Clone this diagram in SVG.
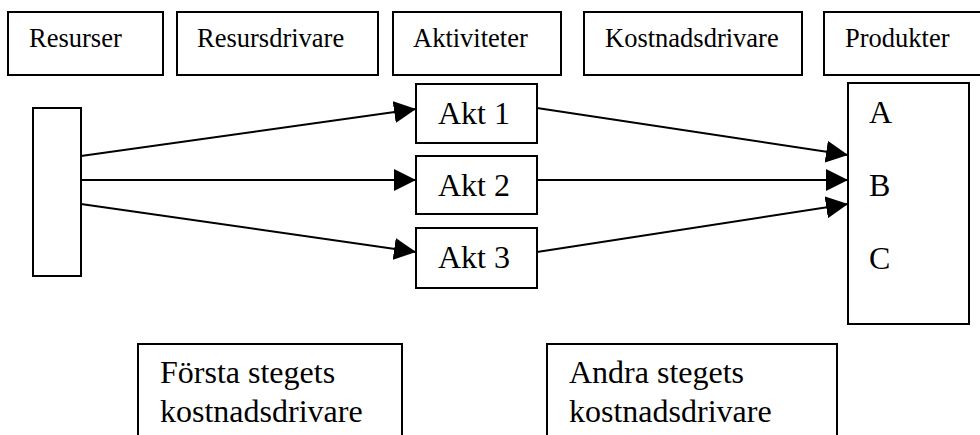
<svg xmlns="http://www.w3.org/2000/svg" width="980" height="435" viewBox="0 0 980 435">
<style>
.box{fill:#fff;stroke:#000;stroke-width:2}
.hdr{font-family:"Liberation Serif","Times New Roman",serif;font-size:26.5px;fill:#000}
.big{font-family:"Liberation Serif","Times New Roman",serif;font-size:32px;fill:#000}
.conn{stroke:#000;stroke-width:2;fill:none;marker-end:url(#ah)}
</style>
<defs>
<marker id="ah" markerUnits="userSpaceOnUse" markerWidth="22" markerHeight="22" viewBox="0 0 20 20" refX="20" refY="10" orient="auto">
<path d="M0,0 L20,10 L0,20 Z" fill="#000"/>
</marker>
</defs>
<rect width="980" height="435" fill="#fff"/>
<g id="hdr-resurser"><rect class="box" x="8" y="12" width="155" height="63"/><text class="hdr" x="29" y="47">Resurser</text></g>
<g id="hdr-resursdrivare"><rect class="box" x="177" y="12" width="201" height="63"/><text class="hdr" x="197" y="47">Resursdrivare</text></g>
<g id="hdr-aktiviteter"><rect class="box" x="393" y="12" width="168" height="63"/><text class="hdr" x="413" y="47">Aktiviteter</text></g>
<g id="hdr-kostnadsdrivare"><rect class="box" x="584" y="12" width="218" height="63"/><text class="hdr" x="605" y="47">Kostnadsdrivare</text></g>
<g id="hdr-produkter"><rect class="box" x="824" y="12" width="170" height="63"/><text class="hdr" x="845" y="47">Produkter</text></g>
<g id="resource"><rect class="box" x="33" y="108" width="48" height="168"/></g>
<g id="akt1"><rect class="box" x="416" y="84" width="121" height="59"/><text class="big" x="438" y="124">Akt 1</text></g>
<g id="akt2"><rect class="box" x="416" y="156" width="121" height="58"/><text class="big" x="438" y="196">Akt 2</text></g>
<g id="akt3"><rect class="box" x="416" y="228" width="121" height="60"/><text class="big" x="438" y="268">Akt 3</text></g>
<g id="products"><rect class="box" x="848" y="83" width="121" height="241"/><text class="big" x="869" y="123">A</text><text class="big" x="869" y="196">B</text><text class="big" x="869" y="269">C</text></g>
<g id="step1"><rect class="box" x="138" y="344" width="264" height="100"/><text class="big" x="160" y="383">Första stegets</text><text class="big" x="160" y="422">kostnadsdrivare</text></g>
<g id="step2"><rect class="box" x="547" y="344" width="290" height="100"/><text class="big" x="569" y="383">Andra stegets</text><text class="big" x="569" y="422">kostnadsdrivare</text></g>
<g id="connectors">
<line class="conn" x1="81" y1="156" x2="416" y2="109"/>
<line class="conn" x1="81" y1="180" x2="416" y2="180"/>
<line class="conn" x1="81" y1="204" x2="416" y2="252"/>
<line class="conn" x1="537" y1="108" x2="848" y2="155"/>
<line class="conn" x1="537" y1="180" x2="848" y2="180"/>
<line class="conn" x1="537" y1="252" x2="848" y2="204"/>
</g>
</svg>
